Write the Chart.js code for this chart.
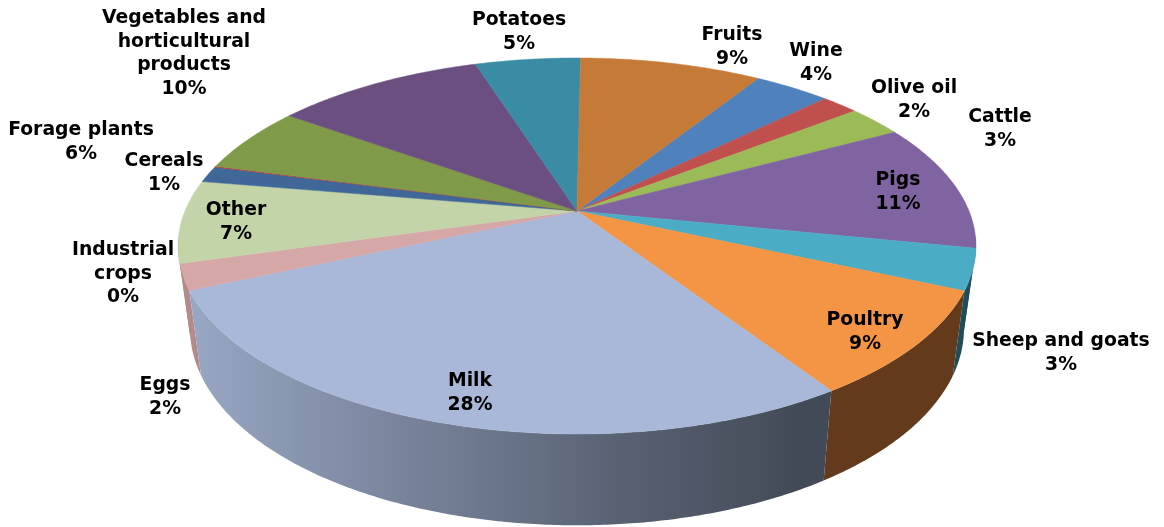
<!DOCTYPE html>
<html>
<head>
<meta charset="utf-8">
<script src="https://cdn.jsdelivr.net/npm/chart.js@4"></script>
<style>html,body{margin:0;padding:0;background:#fff}canvas{display:block}</style>
</head>
<body>
<canvas id="c" width="1164" height="527"></canvas>
<script>
const categories = ["Wine","Olive oil","Cattle","Pigs","Sheep and goats","Poultry","Milk","Eggs","Other","Cereals","Industrial crops","Forage plants","Vegetables and horticultural products","Potatoes","Fruits"];
const values = [3.7,1.8,2.7,11,3.5,9.1,27.6,2.2,7.1,1.4,0.1,5.7,10.2,5.1,8.8];
const percentLabels = ["4%","2%","3%","11%","3%","9%","28%","2%","7%","1%","0%","6%","10%","5%","9%"];
const topColors = ["#4f81bd","#c0504d","#9bbb59","#8064a2","#4bacc6","#f39545","#a9b8d8","#d6a7a7","#c3d4a9","#3f6797","#a8423f","#7f9a48","#6a4f80","#398ca3","#c67a37"];
const wallColors = ["#2f4d71","#73302e","#5d7035","#4c3c61","#1f4e5a","#633a1c","milk","#b58a8a","#7f8c6c","#26405e","#652826","#4c5c2b","#3f304c","#225462","#774920"];
const labelLines = [["Wine"],["Olive oil"],["Cattle"],["Pigs"],["Sheep and goats"],["Poultry"],["Milk"],["Eggs"],["Other"],["Cereals"],["Industrial","crops"],["Forage plants"],["Vegetables and","horticultural","products"],["Potatoes"],["Fruits"]];
const labelAnchors = [[816,51.5],[914,88.5],[1000,117.5],[898,180.5],[1061,341.5],[865,320.5],[470,381.5],[165,385.5],[236,210.5],[164,161.5],[123,250.5],[81,130.5],[184,18.5],[519,20.5],[732,35.5]];

const CX=577, CY=211, K=0.186, A=181.5, B=392, S=0.97, V_MIN=0.13;
function rimTop(a){const u=Math.cos(a),v=Math.sin(a),w=1-K*v;return [CX+B*u/w,CY+A*v/w];}
function rimBottom(a){const u=Math.cos(a),v=Math.sin(a),w=1-K*v;return [CX+S*B*u/w,CY+80+18*v+S*A*v/w];}

const pie3d = {
  id:'pie3d',
  beforeDatasetDraw(chart,args){
    const ctx=chart.ctx, arcs=chart.getDatasetMeta(args.index).data;
    const step=Math.PI/360;
    const milk=ctx.createLinearGradient(190,0,830,0);
    milk.addColorStop(0,'#98a7c3');milk.addColorStop(0.33,'#79849c');milk.addColorStop(0.66,'#5a6374');milk.addColorStop(0.95,'#434a57');milk.addColorStop(1,'#434a57');
    const walls=[];
    arcs.forEach((arc,i)=>{
      const angs=[];
      for(let a=arc.startAngle;a<arc.endAngle;a+=step) if(Math.sin(a)>V_MIN) angs.push(a);
      if(Math.sin(arc.endAngle)>V_MIN) angs.push(arc.endAngle);
      if(angs.length>1) walls.push({i,angs,m:Math.sin(angs[angs.length>>1])});
    });
    walls.sort((p,q)=>p.m-q.m);
    walls.forEach(w=>{
      const c=wallColors[w.i]==='milk'?milk:wallColors[w.i];
      ctx.beginPath();
      w.angs.forEach((a,j)=>{const t=rimTop(a);j?ctx.lineTo(t[0],t[1]):ctx.moveTo(t[0],t[1]);});
      w.angs.slice().reverse().forEach(a=>{const t=rimBottom(a);ctx.lineTo(t[0],t[1]);});
      ctx.closePath();
      ctx.fillStyle=c;ctx.fill();
    });
    arcs.forEach((arc,i)=>{
      ctx.beginPath();ctx.moveTo(CX,CY);
      const n=Math.max(2,Math.ceil((arc.endAngle-arc.startAngle)/step));
      for(let j=0;j<=n;j++){const t=rimTop(arc.startAngle+(arc.endAngle-arc.startAngle)*j/n);ctx.lineTo(t[0],t[1]);}
      ctx.closePath();
      ctx.fillStyle=topColors[i];ctx.strokeStyle=topColors[i];ctx.lineWidth=0.5;ctx.fill();ctx.stroke();
    });
    return false;
  },
  afterDraw(chart){
    const ctx=chart.ctx;
    ctx.save();
    ctx.font='bold 18.8px "DejaVu Sans"';ctx.fillStyle='#000';ctx.textAlign='center';ctx.textBaseline='middle';
    labelLines.forEach((lines,i)=>{
      const [x,y]=labelAnchors[i];
      lines.concat(percentLabels[i]).forEach((s,j)=>ctx.fillText(s,x,y+j*23.5));
    });
    ctx.restore();
  }
};

new Chart(document.getElementById('c'),{
  type:'pie',
  data:{labels:categories,datasets:[{data:values,backgroundColor:topColors,borderWidth:0}]},
  options:{responsive:false,animation:false,rotation:32.3,layout:{padding:0},plugins:{legend:{display:false},tooltip:{enabled:false}}},
  plugins:[pie3d]
});
</script>
</body>
</html>
